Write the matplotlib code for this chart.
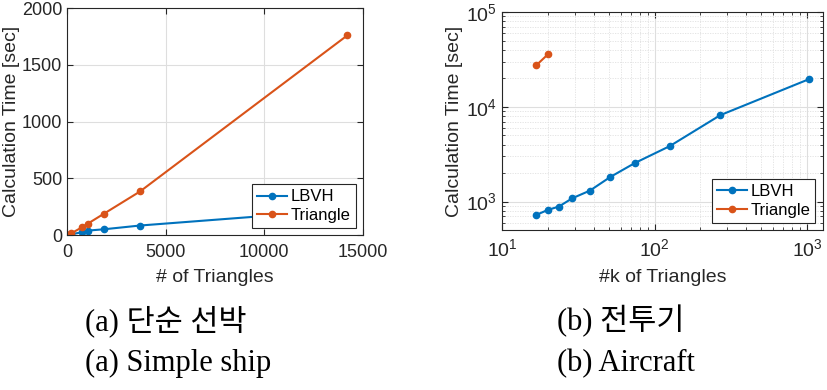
import matplotlib
matplotlib.use("Agg")
import matplotlib.pyplot as plt
from matplotlib.ticker import LogLocator, NullFormatter

# ---- data: (a) simple ship ----
ship_tri_n = [50, 200, 750, 1040, 1880, 3700, 14200]
ship_lbvh_t = [3, 8, 25, 40, 52, 85, 225]
ship_tri_t = [3, 15, 68, 100, 190, 385, 1760]

# ---- data: (b) aircraft ----
air_lbvh_k = [16.8, 20.0, 23.6, 28.9, 37.7, 51.3, 74.3, 126, 270, 1026]
air_lbvh_t = [724, 817, 886, 1084, 1305, 1818, 2552, 3853, 8170, 19540]
air_tri_k = [16.8, 20.0]
air_tri_t = [27500, 35800]

series_names = ["LBVH", "Triangle"]
captions_kr = ["(a) 단순 선박", "(b) 전투기"]
captions_en = ["(a) Simple ship", "(b) Aircraft"]

C_BLUE = "#0072BD"
C_ORANGE = "#D95319"
SANS = ["Liberation Sans", "DejaVu Sans"]
SERIF = ["Liberation Serif", "Noto Sans CJK KR", "DejaVu Sans"]

plt.rcParams["font.family"] = SANS
plt.rcParams["mathtext.fontset"] = "custom"
plt.rcParams["mathtext.rm"] = "Liberation Sans"

fig = plt.figure(figsize=(8.27, 3.90), dpi=100)

def style(ax):
    for s in ax.spines.values():
        s.set_color("#262626")
        s.set_linewidth(0.8)
    ax.tick_params(which="both", direction="in", top=True, right=True,
                   colors="#262626", labelsize=13, labelcolor="#262626")
    ax.tick_params(which="major", length=4)
    ax.tick_params(which="minor", length=2)
    ax.tick_params(axis="x", which="both", pad=6)

def legend(ax):
    leg = ax.legend(loc="lower right", fontsize=12, frameon=True, fancybox=False,
                    borderpad=0.3, handlelength=1.8, handletextpad=0.2, labelspacing=0.2,
                    borderaxespad=0.45)
    leg.get_frame().set_edgecolor("#262626")
    leg.get_frame().set_linewidth(0.8)
    leg.get_frame().set_alpha(1)

# left panel
ax1 = fig.add_axes([0.081, 0.397, 0.358, 0.582])
ax1.plot(ship_tri_n, ship_lbvh_t, color=C_BLUE, marker="o", ms=4.5, lw=1.5, label=series_names[0])
ax1.plot(ship_tri_n, ship_tri_t, color=C_ORANGE, marker="o", ms=4.5, lw=1.5, label=series_names[1])
ax1.set_xlim(0, 15000)
ax1.set_ylim(0, 2000)
ax1.set_xticks([0, 5000, 10000, 15000])
ax1.set_yticks([0, 500, 1000, 1500, 2000])
ax1.grid(True, color="#dedede", lw=0.8)
ax1.set_axisbelow(True)
ax1.set_xlabel("# of Triangles", fontsize=14, color="#262626", labelpad=6)
ax1.set_ylabel("Calculation Time [sec]", fontsize=14, color="#262626", labelpad=1)
style(ax1)
legend(ax1)

# right panel
ax2 = fig.add_axes([0.607, 0.410, 0.388, 0.559])
ax2.plot(air_lbvh_k, air_lbvh_t, color=C_BLUE, marker="o", ms=4.5, lw=1.5, label=series_names[0])
ax2.plot(air_tri_k, air_tri_t, color=C_ORANGE, marker="o", ms=4.5, lw=1.5, label=series_names[1])
ax2.set_xscale("log")
ax2.set_yscale("log")
ax2.set_xlim(10, 1270)
ax2.set_ylim(500, 1e5)
ax2.xaxis.set_major_locator(LogLocator(base=10, numticks=10))
ax2.yaxis.set_major_locator(LogLocator(base=10, numticks=10))
ax2.xaxis.set_minor_locator(LogLocator(base=10, subs=range(2, 10), numticks=20))
ax2.yaxis.set_minor_locator(LogLocator(base=10, subs=range(2, 10), numticks=20))
ax2.xaxis.set_minor_formatter(NullFormatter())
ax2.yaxis.set_minor_formatter(NullFormatter())
ax2.grid(True, which="major", color="#dedede", lw=0.8)
ax2.grid(True, which="minor", color="#e0e0e0", lw=0.6, ls=(0, (1.5, 1.5)))
ax2.set_axisbelow(True)
ax2.set_xlabel("#k of Triangles", fontsize=14, color="#262626", labelpad=6)
ax2.set_ylabel("Calculation Time [sec]", fontsize=14, color="#262626", labelpad=2)
style(ax2)
ax2.tick_params(labelsize=14)
legend(ax2)

# captions
for x, kr, en in zip([85 / 827, 557 / 827], captions_kr, captions_en):
    fig.text(x, 1 - 330 / 390, kr, family=SERIF, fontsize=22, va="baseline", ha="left", color="black")
    fig.text(x, 1 - 371 / 390, en, family=SERIF, fontsize=22, va="baseline", ha="left", color="black")

fig.savefig("out.png", dpi=100)
